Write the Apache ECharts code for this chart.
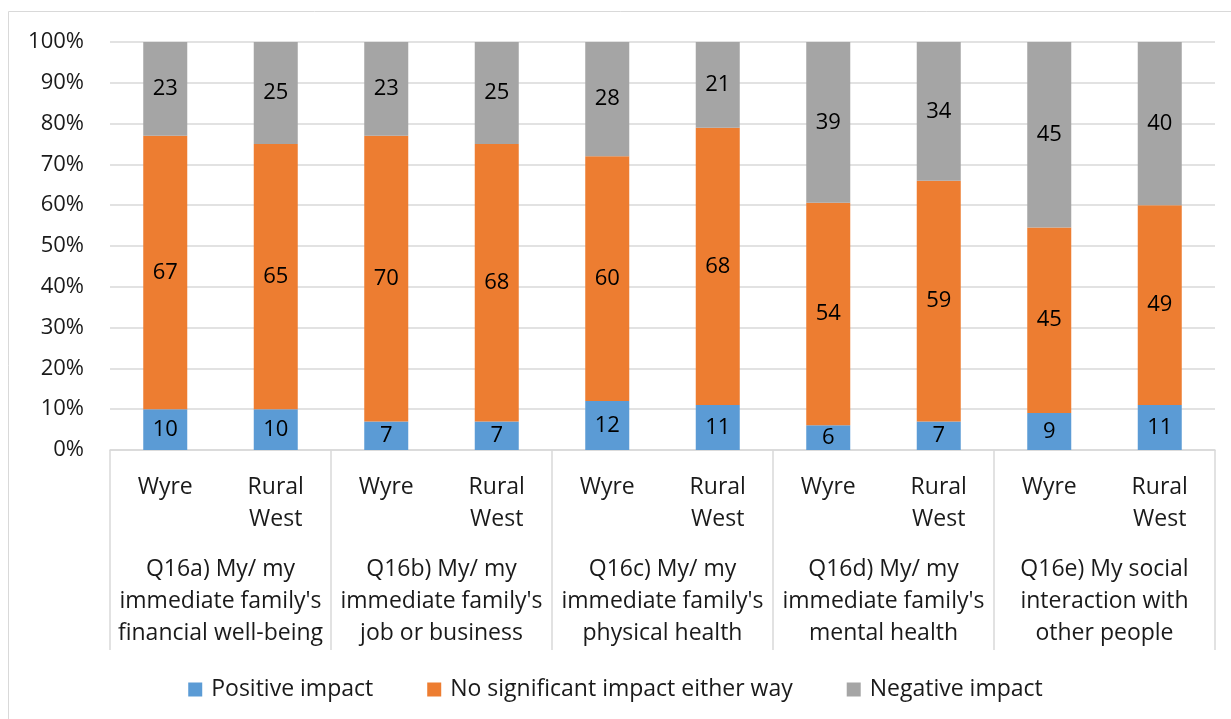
<!DOCTYPE html>
<html>
<head>
<meta charset="utf-8">
<script src="https://cdn.jsdelivr.net/npm/echarts@6/dist/echarts.min.js"></script>
<style>
  html, body { margin: 0; padding: 0; background: #fff; }
  #chart { width: 1231px; height: 719px; }
</style>
</head>
<body>
<div id="chart"></div>
<script>
const groups = [
  "Q16a) My/ my\nimmediate family's\nfinancial well-being",
  "Q16b) My/ my\nimmediate family's\njob or business",
  "Q16c) My/ my\nimmediate family's\nphysical health",
  "Q16d) My/ my\nimmediate family's\nmental health",
  "Q16e) My social\ninteraction with\nother people"
]
const areas = ['Wyre', 'Rural\nWest']
const categories = groups.flatMap(() => areas)

const positive = [10, 10, 7, 7, 12, 11, 6, 7, 9, 11]
const noImpact = [67, 65, 70, 68, 60, 68, 54, 59, 45, 49]
const negative = [23, 25, 23, 25, 28, 21, 39, 34, 45, 40]
const yTicks = [0, 10, 20, 30, 40, 50, 60, 70, 80, 90, 100]

// 100% stacked: scale each bar to its own total, labels keep the raw numbers
const totals = positive.map((v, i) => v + noImpact[i] + negative[i])
const toPct = arr => arr.map((v, i) => ({ value: v / totals[i] * 100, raw: v }))

const font = '"Open Sans", Lato, sans-serif'
const txt = '#1a1a1a'
const line = '#d9d9d9'

const mkSeries = (name, arr, color) => ({
  name: name,
  type: 'bar',
  stack: 'all',
  xAxisIndex: 0,
  barWidth: 44,
  data: toPct(arr),
  itemStyle: { color: color },
  label: {
    show: true,
    position: 'inside',
    color: '#000',
    fontSize: 22,
    fontFamily: font,
    formatter: p => p.data.raw,
  },
})

let myChart = echarts.init(document.getElementById('chart'))
let option = {
  animation: false,
  textStyle: { fontFamily: font },
  graphic: [{
    type: 'rect',
    shape: { x: 8.5, y: 11.5, width: 1240, height: 720 },
    style: { fill: 'none', stroke: line, lineWidth: 1 },
    silent: true,
  }],
  grid: { left: 110, right: 16, top: 42, bottom: 269 },
  legend: {
    bottom: 13,
    left: 'center',
    icon: 'rect',
    itemWidth: 14,
    itemHeight: 14,
    itemGap: 54,
    textStyle: { fontSize: 23, color: txt, fontFamily: font, padding: [0, 0, 0, 4] },
    data: ['Positive impact', 'No significant impact either way', 'Negative impact'],
  },
  xAxis: [
    {
      type: 'category',
      position: 'bottom',
      data: categories,
      axisLine: { show: false },
      axisTick: { show: false },
      axisLabel: {
        interval: 0,
        margin: 21,
        fontSize: 23,
        lineHeight: 32,
        color: txt,
        fontFamily: font,
        verticalAlign: 'top',
      },
    },
    {
      type: 'category',
      position: 'bottom',
      data: groups,
      axisLine: { show: true, lineStyle: { color: line, width: 1.5 } },
      axisTick: { show: true, length: 200, lineStyle: { color: line, width: 1.5 } },
      axisLabel: {
        interval: 0,
        margin: 103,
        fontSize: 23,
        lineHeight: 32,
        color: txt,
        fontFamily: font,
        verticalAlign: 'top',
      },
    },
  ],
  yAxis: {
    type: 'value',
    min: yTicks[0],
    max: yTicks[yTicks.length - 1],
    interval: 10,
    axisLine: { show: false },
    axisTick: { show: false },
    splitLine: { lineStyle: { color: line, width: 1.5 } },
    axisLabel: {
      margin: 26,
      fontSize: 22,
      color: txt,
      fontFamily: font,
      formatter: '{value}%',
    },
  },
  series: [
    mkSeries('Positive impact', positive, '#5b9bd5'),
    mkSeries('No significant impact either way', noImpact, '#ed7d31'),
    mkSeries('Negative impact', negative, '#a5a5a5'),
  ],
}
myChart.setOption(option)
window.addEventListener('resize', () => {
  myChart.resize()
})
</script>
</body>
</html>
